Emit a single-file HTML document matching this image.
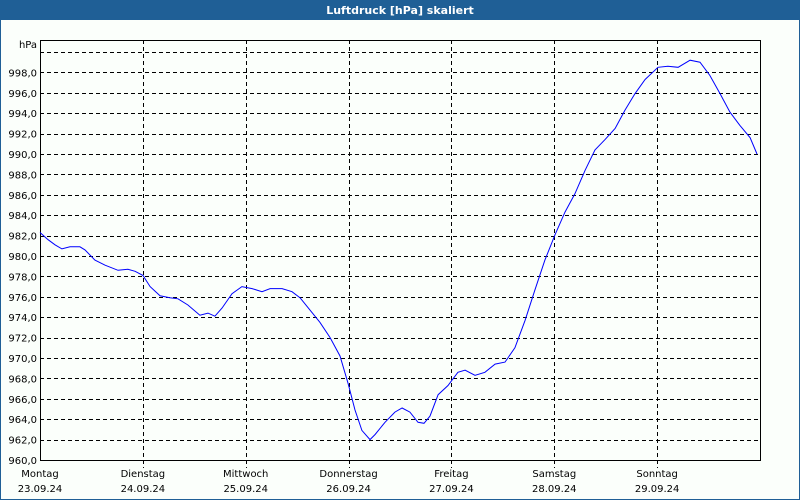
<!DOCTYPE html>
<html><head><meta charset="utf-8"><style>
html,body{margin:0;padding:0;width:800px;height:500px;overflow:hidden;background:#fff}
svg{display:block;font-family:"DejaVu Sans","Liberation Sans",sans-serif}
</style></head><body>
<svg id="chart" width="800" height="500" viewBox="0 0 800 500" xmlns="http://www.w3.org/2000/svg">
<rect x="0" y="0" width="800" height="500" fill="#fbfffb"/>
<rect x="0.5" y="0.5" width="799" height="499" fill="none" stroke="#1f5f96" stroke-width="1"/>
<rect x="0" y="0" width="800" height="20" fill="#1f5f96"/>
<text x="400" y="14" text-anchor="middle" font-size="11" font-weight="bold" fill="#ffffff">Luftdruck [hPa] skaliert</text>
<text x="37" y="48" text-anchor="end" font-size="10" fill="#000">hPa</text>
<g id="grid"></g>
<g id="yticks"></g>
<g id="xticks"></g>
<rect x="40.5" y="40.5" width="720" height="420" fill="none" stroke="#000" stroke-width="1"/>
<g id="series"></g>
</svg>
<script>
const dayNames = ["Montag","Dienstag","Mittwoch","Donnerstag","Freitag","Samstag","Sonntag"];
const dayDates = ["23.09.24","24.09.24","25.09.24","26.09.24","27.09.24","28.09.24","29.09.24"];
const yTickValues = [960,962,964,966,968,970,972,974,976,978,980,982,984,986,988,990,992,994,996,998];
const hours = [0,1.9,3.5,5.1,7.0,9.3,10.5,12.8,15.2,18.2,20.5,22.2,24.0,25.7,28.0,30.3,32.2,34.5,37.3,39.2,40.8,42.5,44.8,47.1,49.5,51.8,53.7,56.5,58.8,60.7,63.0,65.3,67.7,70.0,71.9,73.5,75.1,77.0,78.2,80.5,82.8,84.5,86.3,88.2,89.6,91.0,92.9,95.2,97.5,99.2,101.5,103.8,106.2,108.5,110.8,113.2,115.5,117.8,120.2,122.5,124.8,127.2,129.5,131.8,134.2,136.5,138.8,141.2,144.2,146.5,148.9,151.7,154.0,156.3,158.7,161.0,163.3,165.7,167.3];
const pressure = [982.3,981.6,981.1,980.7,980.9,980.9,980.6,979.6,979.1,978.6,978.7,978.5,978.1,977.0,976.1,975.9,975.8,975.2,974.2,974.4,974.1,974.9,976.3,977.0,976.8,976.5,976.8,976.8,976.5,975.9,974.7,973.5,972.0,970.2,967.5,964.9,962.9,962.0,962.5,963.7,964.7,965.1,964.7,963.7,963.6,964.3,966.4,967.3,968.6,968.8,968.3,968.6,969.4,969.6,971.0,973.7,976.7,979.6,982.1,984.3,986.1,988.4,990.4,991.4,992.5,994.3,995.9,997.3,998.5,998.6,998.5,999.2,999.0,997.7,995.9,994.1,992.8,991.6,990.0];

const NS="http://www.w3.org/2000/svg";
const X0=40,X1=760,Y0=460,YMIN=960,PXPER=10.2,HOURS=168;
function xScale(h){return X0+(h/HOURS)*(X1-X0);}
function yScale(v){return Y0-(v-YMIN)*PXPER;}
function mk(tag,attrs,parent){const e=document.createElementNS(NS,tag);for(const k in attrs)e.setAttribute(k,attrs[k]);parent.appendChild(e);return e;}

const grid=document.getElementById('grid'),yt=document.getElementById('yticks'),xt=document.getElementById('xticks'),ser=document.getElementById('series');
// horizontal grid (including unlabeled 1000)
for(let v=962;v<=1000;v+=2){
  const y=Math.round(yScale(v))+0.5;
  const l=mk('line',{x1:X0,x2:X1,y1:y,y2:y,stroke:'#000','stroke-dasharray':'4,3','stroke-width':1},grid);
  
  
}
yTickValues.forEach(v=>{
  const y=yScale(v);
  const t=mk('text',{x:37,y:y+4,'text-anchor':'end','font-size':10,fill:'#000'},yt);
  t.textContent=v.toFixed(1).replace('.',',');
  
  
});
dayNames.forEach((d,i)=>{
  const x=xScale(i*24);
  if(i>0){
    const xx=Math.round(x)+0.5;
    const l=mk('line',{x1:xx,x2:xx,y1:40,y2:Y0+8,stroke:'#000','stroke-dasharray':'4,3','stroke-width':1},grid);
    
    
  }
  const t=mk('text',{x:x,y:477,'text-anchor':'middle','font-size':10,fill:'#000'},xt);
  t.textContent=d;
  
  
  const t2=mk('text',{x:x,y:492,'text-anchor':'middle','font-size':10,fill:'#000'},xt);
  t2.textContent=dayDates[i];
  
  
});
const pts=hours.map((h,i)=>xScale(h).toFixed(1)+','+yScale(pressure[i]).toFixed(1)).join(' ');
const pl=mk('polyline',{points:pts,fill:'none',stroke:'#0000ff','stroke-width':1},ser);


</script>
</body></html>
